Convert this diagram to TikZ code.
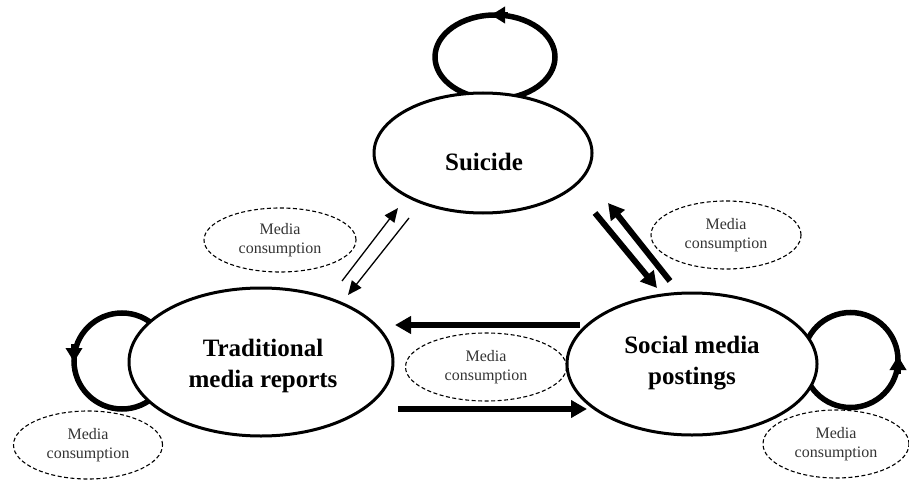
\documentclass[tikz,border=0pt]{standalone}
\usepackage{fontspec}
\setmainfont{Liberation Serif}
\usetikzlibrary{shapes.geometric,arrows.meta}
\begin{document}
\begin{tikzpicture}[x=1pt,y=-1pt,
  mainell/.style={ellipse, draw, line width=3pt, fill=white, inner sep=0pt},
  mcell/.style={ellipse, draw, dash pattern=on 4pt off 2.5pt, line width=1.1pt, inner sep=0pt,
    align=center, font=\fontsize{16}{19}\selectfont, text=black!80},
  lbl/.style={align=center, font=\fontsize{25}{31}\selectfont\bfseries, anchor=base},
  loopline/.style={line width=5.5pt},
  looparr/.style={line width=5.5pt, -{Triangle[length=14pt,width=16pt]}},
  thinarr/.style={line width=1.3pt, -{Triangle[length=14pt,width=12pt]}},
  thickarr/.style={line width=6pt, -{Triangle[length=16pt,width=17pt]}},
]
\useasboundingbox (0,0) rectangle (909,481);

% self loops
\draw[loopline] (495,57) ellipse [x radius=60, y radius=42];
\draw[loopline] (122,361) circle [radius=48];
\draw[loopline] (850.5,360) circle [radius=47.5];
\draw[looparr] (508,15) -- (491,15);
\draw[looparr] (74,344) -- (74,362);
\draw[looparr] (898,374) -- (898,356);

% main nodes
\node[mainell, minimum width=218pt, minimum height=120pt] (sui) at (483,153) {};
\node[mainell, minimum width=264pt, minimum height=148pt] (trad) at (261,362) {};
\node[mainell, minimum width=250pt, minimum height=142pt] (soc) at (692,364) {};

\node[lbl] (suit) at (484,171) {Suicide};
\node[lbl] (tradt) at (263,387) {Traditional\\media reports};
\node[lbl] (soct) at (692,384) {Social media\\postings};

% media consumption
\node[mcell, minimum width=152pt, minimum height=64pt] (mc1) at (280,240) {Media\\consumption};
\node[mcell, minimum width=150pt, minimum height=68pt] (mc2) at (726,235) {Media\\consumption};
\node[mcell, minimum width=161pt, minimum height=68pt] (mc3) at (486,367) {Media\\consumption};
\node[mcell, minimum width=149pt, minimum height=68pt] (mc4) at (88,445) {Media\\consumption};
\node[mcell, minimum width=146pt, minimum height=68pt] (mc5) at (836,444) {Media\\consumption};

% connector ends
\coordinate (a1s) at (342,281); \coordinate (a1e) at (398,208);
\coordinate (a2s) at (409,218); \coordinate (a2e) at (348,295);
\coordinate (b1s) at (595,213); \coordinate (b1e) at (657,288);
\coordinate (b2s) at (670,281); \coordinate (b2e) at (608,203);
\coordinate (c1s) at (580,325); \coordinate (c1e) at (395,325);
\coordinate (c2s) at (398,409); \coordinate (c2e) at (587,409);

\draw[thinarr] (a1s) -- (a1e);
\draw[thinarr] (a2s) -- (a2e);
\draw[thickarr] (b1s) -- (b1e);
\draw[thickarr] (b2s) -- (b2e);
\draw[thickarr] (c1s) -- (c1e);
\draw[thickarr] (c2s) -- (c2e);
\end{tikzpicture}
\end{document}
